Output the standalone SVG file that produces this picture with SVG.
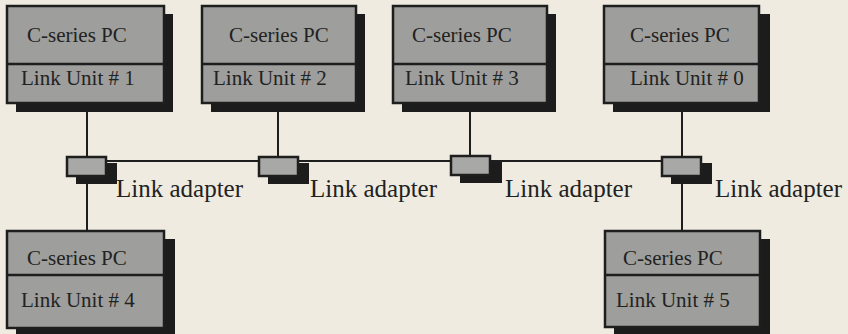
<svg xmlns="http://www.w3.org/2000/svg" width="848" height="334" viewBox="0 0 848 334">
<style>
.bg{fill:#efebe0}
.shadow{fill:#1c1c1c}
.box{fill:#9e9e9c;stroke:#1e1e1e;stroke-width:2.5}
.div{stroke:#1e1e1e;stroke-width:2.5}
.ad{fill:#a8a8a6;stroke:#1e1e1e;stroke-width:2.5}
.wire{stroke:#1e1e1e;stroke-width:2;fill:none}
text{font-family:"Liberation Serif","Times New Roman",serif;fill:#222}
.t{font-size:21px}
.lbl{font-size:25px}
</style>
<rect class="bg" x="0" y="0" width="848" height="334"/>
<g id="connectors">
<line class="wire" x1="87" y1="103" x2="87" y2="231"/>
<line class="wire" x1="278" y1="103" x2="278" y2="160"/>
<line class="wire" x1="470" y1="103" x2="470" y2="160"/>
<line class="wire" x1="682" y1="103" x2="682" y2="231"/>
<line class="wire" x1="87" y1="161" x2="682" y2="161"/>
</g>
<g id="pc1">
<rect class="shadow" x="16" y="14" width="157" height="98"/>
<rect class="box" x="7" y="6" width="157" height="97"/>
<line class="div" x1="7" y1="64" x2="164" y2="64"/>
<text class="t" x="27" y="42">C-series PC</text>
<text class="t" x="21" y="85">Link Unit # 1</text>
</g>
<g id="pc2">
<rect class="shadow" x="211" y="14" width="154" height="98"/>
<rect class="box" x="202" y="6" width="154" height="97"/>
<line class="div" x1="202" y1="64" x2="356" y2="64"/>
<text class="t" x="229" y="42">C-series PC</text>
<text class="t" x="213" y="85">Link Unit # 2</text>
</g>
<g id="pc3">
<rect class="shadow" x="402" y="14" width="154" height="98"/>
<rect class="box" x="393" y="6" width="154" height="97"/>
<line class="div" x1="393" y1="64" x2="547" y2="64"/>
<text class="t" x="412" y="42">C-series PC</text>
<text class="t" x="405" y="85">Link Unit # 3</text>
</g>
<g id="pc0">
<rect class="shadow" x="613" y="14" width="157" height="98"/>
<rect class="box" x="604" y="6" width="155" height="97"/>
<line class="div" x1="604" y1="64" x2="759" y2="64"/>
<text class="t" x="630" y="42">C-series PC</text>
<text class="t" x="630" y="85">Link Unit # 0</text>
</g>
<g id="pc4">
<rect class="shadow" x="16" y="239" width="159" height="98"/>
<rect class="box" x="7" y="231" width="157" height="97"/>
<line class="div" x1="7" y1="275" x2="164" y2="275"/>
<text class="t" x="27" y="265">C-series PC</text>
<text class="t" x="21" y="307">Link Unit # 4</text>
</g>
<g id="pc5">
<rect class="shadow" x="614" y="239" width="156" height="98"/>
<rect class="box" x="605" y="231" width="155" height="96"/>
<line class="div" x1="605" y1="275" x2="760" y2="275"/>
<text class="t" x="623" y="265">C-series PC</text>
<text class="t" x="616" y="307">Link Unit # 5</text>
</g>
<g id="adapter1">
<rect class="shadow" x="76" y="163" width="41" height="21"/>
<rect class="ad" x="67" y="157" width="39" height="19"/>
<text class="lbl" x="116" y="197">Link adapter</text>
</g>
<g id="adapter2">
<rect class="shadow" x="268" y="163" width="41" height="21"/>
<rect class="ad" x="259" y="157" width="39" height="19"/>
<text class="lbl" x="310" y="197">Link adapter</text>
</g>
<g id="adapter3">
<rect class="shadow" x="460" y="162" width="42" height="21"/>
<rect class="ad" x="451" y="156" width="39" height="19"/>
<text class="lbl" x="505" y="197">Link adapter</text>
</g>
<g id="adapter0">
<rect class="shadow" x="671" y="163" width="41" height="21"/>
<rect class="ad" x="662" y="157" width="39" height="19"/>
<text class="lbl" x="715" y="197">Link adapter</text>
</g>
</svg>
